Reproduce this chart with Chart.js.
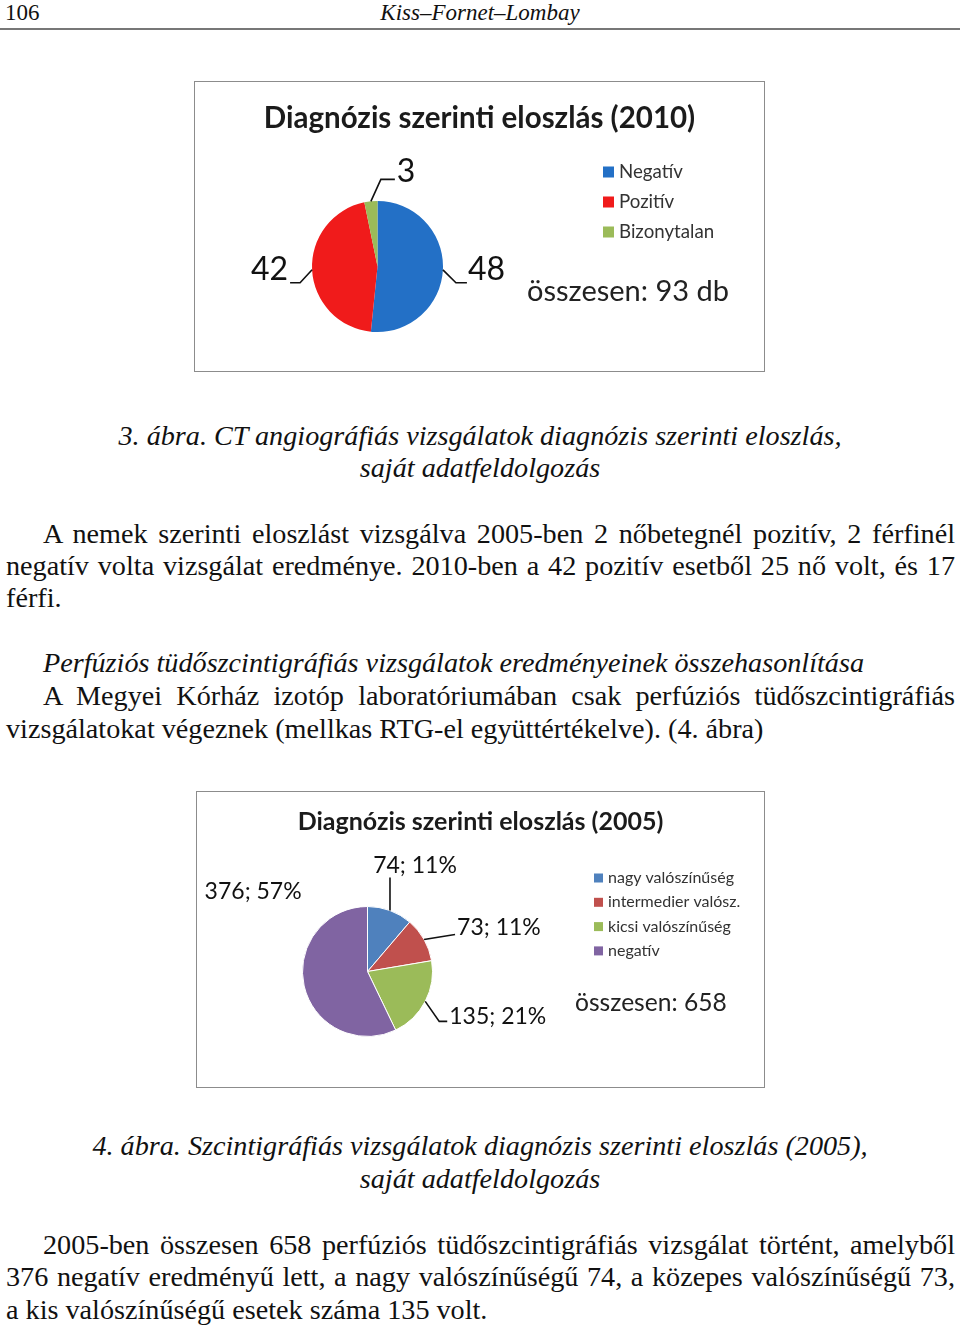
<!DOCTYPE html>
<html lang="hu">
<head>
<meta charset="UTF-8">
<title>Diagnózis szerinti eloszlás</title>
<script src="https://cdn.jsdelivr.net/npm/chart.js"></script>
<style>
  * { margin: 0; padding: 0; box-sizing: border-box; }
  body { width: 960px; height: 1326px; position: relative; background: #fff; overflow: hidden;
         font-family: 'Liberation Serif', 'Times New Roman', serif; color: #111; }
  .ln { position: absolute; font-size: 28.2px; line-height: 32px; white-space: nowrap; }
  .full { text-align: justify; text-align-last: justify; white-space: normal; }
  .it { font-style: italic; }
  .ctr { left: 0; width: 960px; text-align: center; }
  .box { position: absolute; border: 1px solid #8c8c8c; background: #fff; }
  .box canvas { display: block; }
</style>
</head>
<body>
  <div class="ln" style="left:5px; top:-3px; font-size:23px;">106</div>
  <div class="ln it ctr" style="top:-3px; font-size:23px;">Kiss–Fornet–Lombay</div>
  <div style="position:absolute; left:0; top:28px; width:960px; height:2px; background:#777;"></div>

  <div class="box" style="left:194px; top:81px; width:571px; height:291px;">
    <canvas id="pie2010" width="569" height="289"></canvas>
  </div>

  <div class="ln it ctr" style="top:420px;">3. ábra. CT angiográfiás vizsgálatok diagnózis szerinti eloszlás,</div>
  <div class="ln it ctr" style="top:452px;">saját adatfeldolgozás</div>

  <div class="ln full" style="left:43px; width:912px; top:518px;">A nemek szerinti eloszlást vizsgálva 2005-ben 2 nőbetegnél pozitív, 2 férfinél</div>
  <div class="ln full" style="left:6px; width:949px; top:550px;">negatív volta vizsgálat eredménye. 2010-ben a 42 pozitív esetből 25 nő volt, és 17</div>
  <div class="ln" style="left:6px; top:582px;">férfi.</div>

  <div class="ln it" style="left:43px; top:647px;">Perfúziós tüdőszcintigráfiás vizsgálatok eredményeinek összehasonlítása</div>
  <div class="ln full" style="left:43px; width:912px; top:680px;">A Megyei Kórház izotóp laboratóriumában csak perfúziós tüdőszcintigráfiás</div>
  <div class="ln" style="left:6px; top:713px;">vizsgálatokat végeznek (mellkas RTG-el együttértékelve). (4. ábra)</div>

  <div class="box" style="left:196px; top:791px; width:569px; height:297px;">
    <canvas id="pie2005" width="567" height="295"></canvas>
  </div>

  <div class="ln it ctr" style="top:1130px;">4. ábra. Szcintigráfiás vizsgálatok diagnózis szerinti eloszlás (2005),</div>
  <div class="ln it ctr" style="top:1163px;">saját adatfeldolgozás</div>

  <div class="ln full" style="left:43px; width:912px; top:1229px;">2005-ben összesen 658 perfúziós tüdőszcintigráfiás vizsgálat történt, amelyből</div>
  <div class="ln full" style="left:6px; width:949px; top:1261px;">376 negatív eredményű lett, a nagy valószínűségű 74, a közepes valószínűségű 73,</div>
  <div class="ln" style="left:6px; top:1294px;">a kis valószínűségű esetek száma 135 volt.</div>

<script>
// --- data ---
const cat2010 = ['Negatív', 'Pozitív', 'Bizonytalan'];
const val2010 = [48, 42, 3];
const col2010 = ['#2370c6', '#f01b1b', '#9bbb59'];

const cat2005 = ['nagy valószínűség', 'intermedier valósz.', 'kicsi valószínűség', 'negatív'];
const val2005 = [74, 73, 135, 376];
const col2005 = ['#4f81bd', '#c0504d', '#9bbb59', '#8064a2'];

const FAM = "Lato, 'Open Sans', sans-serif";

// font size that makes text about w pixels wide
function fitFont(ctx, text, weight, w) {
  ctx.font = weight + ' 100px ' + FAM;
  const s = 100 * w / ctx.measureText(text).width;
  return weight + ' ' + s.toFixed(1) + 'px ' + FAM;
}

// title, legend, total and leader-line labels drawn on top of the pie
const decor = {
  id: 'decor',
  afterDraw(chart, args, o) {
    const ctx = chart.ctx;
    const ds = chart.data.datasets[0];
    const meta = chart.getDatasetMeta(0);
    const total = ds.data.reduce((a, b) => a + b, 0);
    ctx.save();
    ctx.textBaseline = 'middle';

    // title
    ctx.fillStyle = '#1b1b1b';
    ctx.textAlign = 'center';
    ctx.font = fitFont(ctx, o.title, 'bold', o.titleW);
    ctx.fillText(o.title, chart.width / 2, o.titleY);

    // legend
    ctx.textAlign = 'left';
    ctx.font = fitFont(ctx, o.legWide, 'normal', o.legWideW);
    chart.data.labels.forEach((lab, i) => {
      const y = o.legY + i * o.legGap;
      ctx.fillStyle = ds.backgroundColor[i];
      ctx.fillRect(o.legX, y - o.legBox / 2, o.legBox, o.legBox);
      ctx.fillStyle = '#333';
      ctx.fillText(lab, o.legX + o.legBox + 5, y);
    });

    // total
    ctx.fillStyle = '#222';
    ctx.font = fitFont(ctx, o.total, 'normal', o.totalW);
    ctx.fillText(o.total, o.totalX, o.totalY);

    // data labels
    ctx.font = o.labelFont;
    ctx.strokeStyle = '#111';
    ctx.lineWidth = 1.6;
    meta.data.forEach((arc, i) => {
      const p = arc.getProps(['x', 'y', 'startAngle', 'endAngle', 'outerRadius'], true);
      const mid = (p.startAngle + p.endAngle) / 2;
      const ex = p.x + p.outerRadius * Math.cos(mid);
      const ey = p.y + p.outerRadius * Math.sin(mid);
      const sp = o.labels[i];
      if (sp.lead.length) {
        ctx.beginPath();
        ctx.moveTo(ex, ey);
        sp.lead.forEach(q => ctx.lineTo(ex + q[0], ey + q[1]));
        ctx.stroke();
      }
      const v = ds.data[i];
      const txt = o.percent ? v + '; ' + Math.round(v / total * 100) + '%' : String(v);
      ctx.fillStyle = '#111';
      ctx.textAlign = sp.align;
      ctx.fillText(txt, ex + sp.dx, ey + sp.dy);
    });
    ctx.restore();
  }
};

function makePie(id, labels, values, colors, pad, border, opts) {
  new Chart(document.getElementById(id), {
    type: 'pie',
    data: {
      labels: labels,
      datasets: [{ data: values, backgroundColor: colors, borderColor: '#fff', borderWidth: border }]
    },
    options: {
      responsive: false,
      animation: false,
      layout: { padding: pad },
      plugins: { legend: { display: false }, title: { display: false }, tooltip: { enabled: false }, decor: opts }
    },
    plugins: [decor]
  });
}

makePie('pie2010', cat2010, val2010, col2010,
  { left: 117, right: 321, top: 119, bottom: 39 }, 0, {
    title: 'Diagnózis szerinti eloszlás (2010)', titleW: 431, titleY: 36,
    legX: 408, legY: 90, legGap: 30, legBox: 11, legWide: 'Bizonytalan', legWideW: 95,
    total: 'összesen: 93 db', totalW: 202, totalX: 332, totalY: 210,
    labelFont: "32px " + FAM, percent: false,
    labels: [
      { lead: [[13, 13], [24, 13]], dx: 25, dy: 0, align: 'left' },
      { lead: [[-12, 13], [-22, 13]], dx: -24, dy: 0, align: 'right' },
      { lead: [[10, -22], [24, -22]], dx: 26, dy: -30, align: 'left' }
    ]
  });

makePie('pie2005', cat2005, val2005, col2005,
  { left: 105, right: 331, top: 114, bottom: 50 }, 1, {
    title: 'Diagnózis szerinti eloszlás (2005)', titleW: 366, titleY: 30,
    legX: 397, legY: 86, legGap: 24.3, legBox: 9, legWide: 'intermedier valósz.', legWideW: 132,
    total: 'összesen: 658', totalW: 152, totalX: 378, totalY: 211,
    labelFont: "23px " + FAM, percent: true,
    labels: [
      { lead: [[0, -33]], dx: 25, dy: -45, align: 'center' },
      { lead: [[31, -5]], dx: 33, dy: -12, align: 'left' },
      { lead: [[14, 20], [22, 20]], dx: 24, dy: 15, align: 'left' },
      { lead: [], dx: -51, dy: -94, align: 'center' }
    ]
  });
</script>
</body>
</html>
